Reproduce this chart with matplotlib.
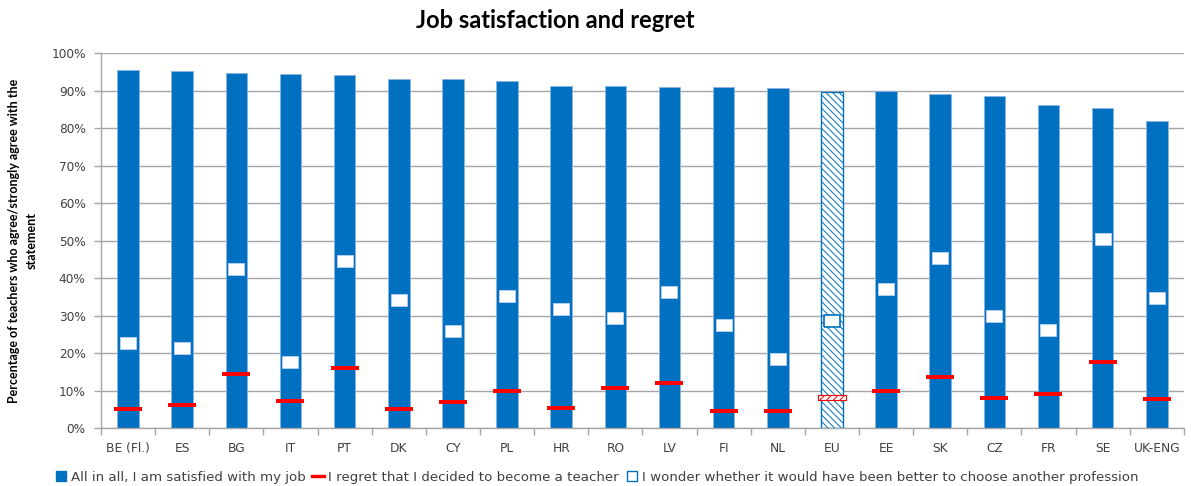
import matplotlib
matplotlib.use("Agg")
import matplotlib.pyplot as plt
from matplotlib.lines import Line2D
import numpy as np

plt.rcParams['font.family'] = ['Lato', 'DejaVu Sans']
plt.rcParams['hatch.linewidth'] = 0.7

categories = ["BE (Fl.)", "ES", "BG", "IT", "PT", "DK", "CY", "PL", "HR", "RO",
              "LV", "FI", "NL", "EU", "EE", "SK", "CZ", "FR", "SE", "UK-ENG"]
satisfied = [95.5, 95.3, 94.7, 94.4, 94.2, 93.1, 93.1, 92.7, 91.4, 91.4,
             91.0, 91.0, 90.7, 89.8, 90.0, 89.1, 88.5, 86.3, 85.5, 81.9]
regret = [5.1, 6.1, 14.5, 7.2, 16.2, 5.1, 6.9, 10.0, 5.5, 10.8,
          12.0, 4.7, 4.7, 8.3, 10.0, 13.7, 8.1, 9.2, 17.6, 7.8]
wonder = [22.8, 21.3, 42.6, 17.7, 44.5, 34.2, 26.0, 35.3, 31.7, 29.4,
          36.4, 27.5, 18.6, 28.6, 37.1, 45.3, 30.0, 26.1, 50.4, 34.7]
yticks = [0, 10, 20, 30, 40, 50, 60, 70, 80, 90, 100]
labels = ["All in all, I am satisfied with my job",
          "I regret that I decided to become a teacher",
          "I wonder whether it would have been better to choose another profession"]

BLUE = "#0070C0"
RED = "#FF0000"
GRID = "#A6A6A6"
TXT = "#404040"

fig = plt.figure(figsize=(11.91, 4.86), dpi=100)
ax = fig.add_axes([0.0848, 0.1187, 0.9092, 0.7716])

x = np.arange(len(categories))
eu = categories.index("EU")
other = [i for i in x if i != eu]

ax.bar([x[i] for i in other], [satisfied[i] for i in other], width=0.4,
       color=BLUE, edgecolor="#8DB3E2", linewidth=0.6, zorder=2)
ax.bar([x[eu]], [satisfied[eu]], width=0.4, facecolor="white",
       edgecolor=BLUE, hatch="\\\\\\\\\\", linewidth=1.0, zorder=2)

rect = [(-1, -0.18), (1, -0.18), (1, 0.18), (-1, 0.18), (-1, -0.18)]
sq = [(-0.5, -0.4), (0.5, -0.4), (0.5, 0.4), (-0.5, 0.4), (-0.5, -0.4)]

ax.scatter([x[i] for i in other], [regret[i] for i in other], marker=rect, s=390,
           color=RED, linewidths=0, zorder=3)
ax.scatter([x[eu]], [regret[eu]], marker=rect, s=390, facecolor="white",
           edgecolor=RED, hatch="/////", linewidths=0.8, zorder=3)

ax.scatter([x[i] for i in other], [wonder[i] for i in other], marker=sq, s=118,
           facecolor="white", edgecolor="#C6D9F1", linewidths=0.5, zorder=3)
ax.scatter([x[eu]], [wonder[eu]], marker=sq, s=125,
           facecolor="white", edgecolor=BLUE, linewidths=1.2, zorder=3)

ax.set_xlim(-0.5, len(categories) - 0.5)
ax.set_ylim(0, 100)
ax.set_yticks(yticks)
ax.set_yticklabels([f"{v}%" for v in yticks], fontsize=8.7, color=TXT,
                   family="DejaVu Sans")
ax.yaxis.grid(True, color=GRID, linewidth=1.0, zorder=0)
ax.set_axisbelow(True)

ax.set_xticks(x)
ax.set_xticklabels(categories, fontsize=8.8, color=TXT, family="DejaVu Sans")
ax.set_xticks(np.arange(-0.5, len(categories) + 0.5, 1), minor=True)
ax.tick_params(axis="x", which="major", length=0, pad=10)
ax.tick_params(axis="x", which="minor", length=5, color=GRID, width=1)
ax.tick_params(axis="y", length=5, color=GRID, width=1, pad=6)

for s in ["top", "right"]:
    ax.spines[s].set_visible(False)
for s in ["left", "bottom"]:
    ax.spines[s].set_color(GRID)
    ax.spines[s].set_linewidth(1.0)

ax.set_ylabel("Percentage of teachers who agree/strongly agree with the\nstatement",
              fontsize=9, fontweight="bold", color="black", labelpad=10,
              linespacing=1.5)

fig.text(555 / 1191, 1 - 21 / 486, "Job satisfaction and regret", ha="center",
         va="center", fontsize=17, fontweight="bold", color="black")

handles = [
    Line2D([], [], marker="s", linestyle="none", markersize=7,
           markerfacecolor=BLUE, markeredgecolor=BLUE),
    Line2D([], [], marker=rect, linestyle="none", markersize=10,
           markerfacecolor=RED, markeredgecolor=RED),
    Line2D([], [], marker="s", linestyle="none", markersize=7,
           markerfacecolor="white", markeredgecolor=BLUE),
]
fig.legend(handles, labels, loc="center", bbox_to_anchor=(597 / 1191, 1 - 477 / 486),
           ncol=3, frameon=False, handlelength=0.7,
           handletextpad=0.4, columnspacing=0.6, labelcolor=TXT,
           prop={"family": "DejaVu Sans", "size": 9.6})

fig.savefig("out.png", dpi=100)
